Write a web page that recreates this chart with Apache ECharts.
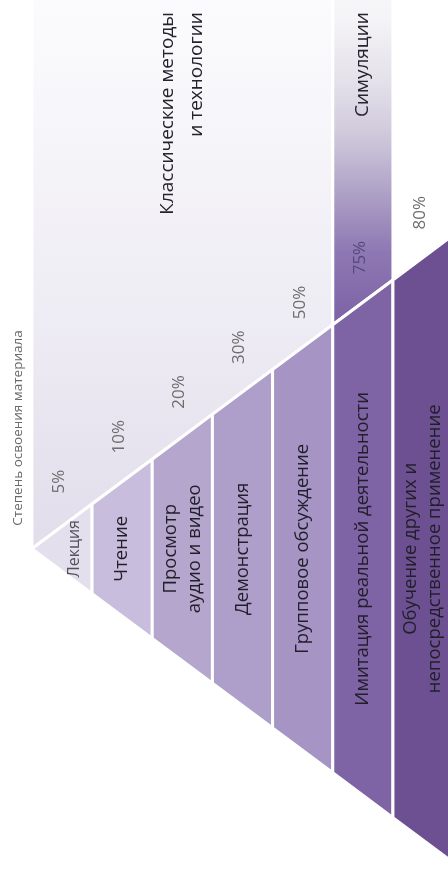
<!DOCTYPE html>
<html>
<head>
<meta charset="utf-8">
<script src="https://cdn.jsdelivr.net/npm/echarts@6/dist/echarts.min.js"></script>
<style>
html, body { margin: 0; padding: 0; background: #fff; }
#main { width: 448px; height: 870px; }
</style>
</head>
<body>
<div id="main"></div>
<script>
// learning pyramid, drawn turned on its side (apex on the left)
const methods = [
    'Лекция',
    'Чтение',
    'Просмотр\nаудио и видео',
    'Демонстрация',
    'Групповое обсуждение',
    'Имитация реальной деятельности',
    'Обучение других и\nнепосредственное применение'
]
const retention = [5, 10, 20, 30, 50, 75, 80]
const groupNames = ['Классические методы\nи технологии', 'Симуляции']
const groupSpans = [[0, 5], [5, 6]]
const caption = 'Степень освоения материала'

const stripColors = ['#e3dfec', '#c8bddc', '#b4a6cd', '#ae9fca', '#a594c4', '#7e63a5', '#6c5091']
const FONT = '"Open Sans", "DejaVu Sans", sans-serif'
const TOP = 12.25

var myChart = echarts.init(document.getElementById('main'))

function groupItem(params, api) {
    const a = api.value(0), b = api.value(1)
    const pts = [[a, TOP + 1], [b, TOP + 1], [b, b], [a, a]].map(p => api.coord(p))
    const fill = params.dataIndex === 0
        ? new echarts.graphic.LinearGradient(0, 0, 0, 1, [
            { offset: 0, color: '#fdfdfe' },
            { offset: 0.55, color: '#f0eef5' },
            { offset: 1, color: '#e1ddeb' }
        ])
        : new echarts.graphic.LinearGradient(0, 0, 0, 1, [
            { offset: 0, color: '#fbfbfb' },
            { offset: 0.18, color: '#f4f3f6' },
            { offset: 0.35, color: '#e3e0e9' },
            { offset: 0.5, color: '#cdc6da' },
            { offset: 0.65, color: '#ac9fc5' },
            { offset: 0.8, color: '#8e78b3' },
            { offset: 1, color: '#7c61a5' }
        ])
    const t = api.coord([(a + b) / 2, TOP - 0.27])
    return {
        type: 'group',
        children: [
            { type: 'polygon', shape: { points: pts }, style: { fill: fill, stroke: '#fff', lineWidth: 3 } },
            {
                type: 'text', x: t[0], y: t[1], rotation: Math.PI / 2,
                style: {
                    text: groupNames[params.dataIndex], fill: '#26222e',
                    font: '19px ' + FONT, align: 'right', verticalAlign: 'middle', lineHeight: 29
                }
            }
        ]
    }
}

function stripItem(params, api) {
    const i = api.value(0)
    const pts = [[i, i], [i + 1, i + 1], [i + 1, -(i + 1)], [i, -i]].map(p => api.coord(p))
    const c = api.coord([i === 0 ? 0.7 : i + 0.5, 0])
    const pu = i + 0.45
    const p = api.coord([pu, pu + 1.05])
    return {
        type: 'group',
        children: [
            { type: 'polygon', shape: { points: pts }, style: { fill: stripColors[i], stroke: '#fff', lineWidth: 3 } },
            {
                type: 'text', x: c[0], y: c[1], rotation: Math.PI / 2,
                style: {
                    text: methods[i], fill: i === 0 ? '#55525c' : '#221e2a',
                    font: (i === 0 ? '16px ' : '18.5px ') + FONT,
                    align: 'center', verticalAlign: 'middle', lineHeight: 24
                }
            },
            {
                type: 'text', x: p[0], y: p[1], rotation: Math.PI / 2,
                style: {
                    text: api.value(1) + '%', fill: i === 5 ? '#574878' : '#6e6e6e',
                    font: '17px ' + FONT, align: 'center', verticalAlign: 'middle'
                }
            }
        ]
    }
}

myChart.setOption({
    animation: false,
    grid: { left: 0, right: 0, top: 0, bottom: 0 },
    xAxis: { type: 'value', min: -0.53, max: 6.915, show: false },
    yAxis: { type: 'value', min: -7.17, max: TOP, show: false },
    graphic: [{
        type: 'text', x: 18, y: 428, rotation: Math.PI / 2,
        style: { text: caption, fill: '#6a6a6a', font: '13.5px ' + FONT, align: 'center', verticalAlign: 'middle' }
    }],
    series: [
        {
            type: 'custom', renderItem: groupItem, z: 1,
            data: groupSpans.map((s, i) => ({ value: s, name: groupNames[i] }))
        },
        {
            type: 'custom', renderItem: stripItem, z: 2,
            data: methods.map((m, i) => ({ value: [i, retention[i]], name: m }))
        }
    ]
})
</script>
</body>
</html>
